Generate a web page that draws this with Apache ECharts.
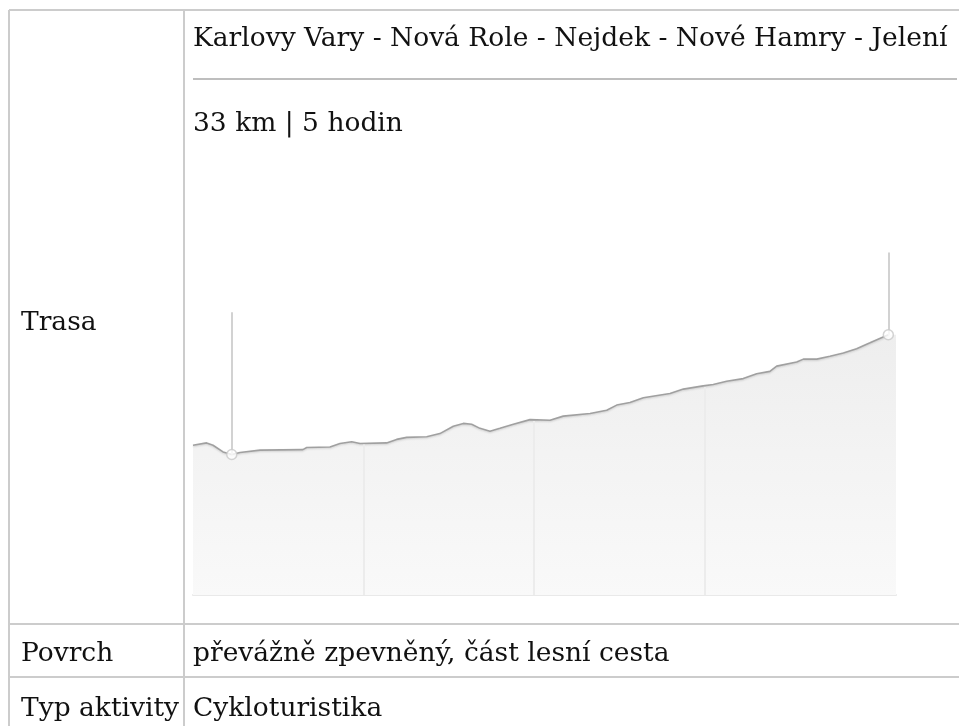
<!DOCTYPE html>
<html>
<head>
<meta charset="utf-8">
<script src="https://cdn.jsdelivr.net/npm/echarts@6/dist/echarts.min.js"></script>
<style>
html,body{margin:0;padding:0;background:#fff;}
#c{width:959px;height:726px;}
</style>
</head>
<body>
<div id="c"></div>
<script>
// Route distance (km) and elevation (m) read from the profile
const distKm = [0.0,0.64,0.94,1.41,1.82,2.21,3.15,5.16,5.34,6.43,6.90,7.45,7.84,9.09,9.56,10.03,10.97,11.59,12.22,12.69,13.08,13.47,13.94,14.41,15.04,15.82,16.76,17.38,18.64,19.42,19.89,20.51,21.14,22.39,23.02,23.95,24.42,25.05,25.83,26.46,27.08,27.40,28.34,28.65,29.28,29.90,30.53,31.15,31.78,32.64];
const elevM = [515,523,515,492,483,490,498,500,507,509,521,527,521,523,535,542,544,555,580,590,587,573,563,573,587,603,601,615,624,635,653,662,678,693,708,719,724,735,744,761,769,787,801,811,811,821,832,847,867,895];
// Town positions along the route (km) – vertical guides
const townKm = [8, 16, 24];
// Marker points: lowest point and route end, with guide-line top elevation
const markerKm = [1.82, 32.64];
const markerElev = [483, 895];
const markerTop = [972, 1178];
const routeEndKm = 33;

const title = 'Karlovy Vary - Nová Role - Nejdek - Nové Hamry - Jelení';
const summary = '33 km | 5 hodin';
const rowLabels = ['Trasa', 'Povrch', 'Typ aktivity'];
const rowValues = ['převážně zpevněný, část lesní cesta', 'Cykloturistika'];

const lineData = distKm.map((d, i) => [d, elevM[i]]);
const areaData = lineData.concat([[routeEndKm, elevM[elevM.length - 1]]]);

function elevAt(km) {
  for (let i = 1; i < distKm.length; i++) {
    if (distKm[i] >= km) {
      const t = (km - distKm[i-1]) / (distKm[i] - distKm[i-1]);
      return elevM[i-1] + t * (elevM[i] - elevM[i-1]);
    }
  }
  return elevM[elevM.length - 1];
}

const FONT = 'DejaVu Serif';
const TXT = '#111111';
const BORDER = '#cccccc';

function hLine(y, x1, x2, color, w) {
  return {type:'line', shape:{x1:x1, y1:y, x2:x2, y2:y}, style:{stroke:color, lineWidth:w}, silent:true};
}
function vLine(x, y1, y2, color, w) {
  return {type:'line', shape:{x1:x, y1:y1, x2:x, y2:y2}, style:{stroke:color, lineWidth:w}, silent:true};
}
function txt(s, x, y) {
  return {type:'text', x:x, y:y, style:{text:s, fill:TXT, font:'26.5px "' + FONT + '"', textVerticalAlign:'top', textAlign:'left'}, silent:true};
}

const chart = echarts.init(document.getElementById('c'));
chart.setOption({
  animation: false,
  grid: {left: 193, right: 63, top: 246, bottom: 131},
  xAxis: {type:'value', min:0, max:routeEndKm, show:true,
    axisLine:{show:true, lineStyle:{color:'#e9e9e9', width:2}},
    axisTick:{show:false}, axisLabel:{show:false}, splitLine:{show:false}},
  yAxis: {type:'value', min:0, max:1200, show:false, splitLine:{show:false}},
  graphic: [
    hLine(10, 9, 959, BORDER, 2),
    vLine(9, 10, 726, BORDER, 2),
    vLine(184, 10, 726, BORDER, 2),
    hLine(624, 9, 959, BORDER, 2),
    hLine(677, 9, 959, BORDER, 2),
    hLine(79, 193, 957, '#a8a8a8', 1.5),
    txt(title, 193, 25.5),
    txt(summary, 193, 111),
    txt(rowLabels[0], 21, 309.5),
    txt(rowLabels[1], 21, 640.5),
    txt(rowValues[0], 193, 640.5),
    txt(rowLabels[2], 21, 695.5),
    txt(rowValues[1], 193, 695.5)
  ],
  series: [
    {
      type:'line', data: areaData, showSymbol:false, silent:true,
      lineStyle:{width:0, opacity:0},
      areaStyle:{opacity:1, color: new echarts.graphic.LinearGradient(0,0,0,1,[
        {offset:0, color:'#eeeeee'}, {offset:1, color:'#f9f9f9'}])},
      markLine:{silent:true, symbol:['none','none'], label:{show:false},
        lineStyle:{color:'#ececec', width:2, type:'solid'},
        data: townKm.map(k => [{coord:[k, 0]}, {coord:[k, elevAt(k) - 4]}])},
      z:1
    },
    {
      type:'line', data: lineData, showSymbol:false, silent:true,
      lineStyle:{color:'#a0a0a0', width:1.6, shadowColor:'rgba(0,0,0,0.15)', shadowBlur:2, shadowOffsetY:1},
      markLine:{silent:true, symbol:['none','none'], label:{show:false},
        lineStyle:{color:'#d2d2d2', width:2, type:'solid'},
        data: markerKm.map((k, i) => [{coord:[k, markerElev[i]]}, {coord:[k, markerTop[i]]}])},
      z:2
    },
    {
      type:'scatter', data: markerKm.map((k, i) => [k, markerElev[i]]), silent:true,
      symbol:'circle', symbolSize:10,
      itemStyle:{color:'#ffffff', borderColor:'#c8c8c8', borderWidth:1.5},
      z:5
    }
  ]
});
</script>
</body>
</html>
